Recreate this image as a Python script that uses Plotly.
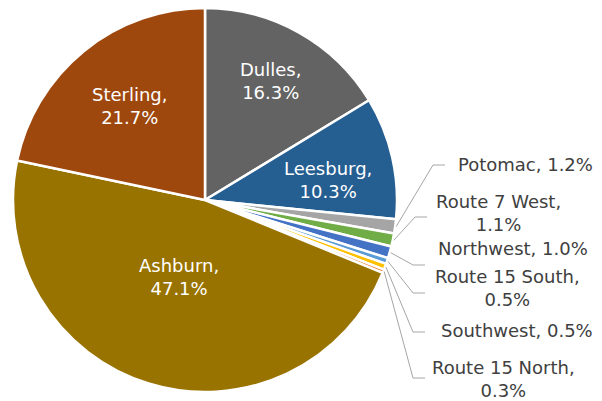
import math
import plotly.graph_objects as go

# ---- data ----
labels = ["Dulles", "Leesburg", "Potomac", "Route 7 West", "Northwest",
          "Route 15 South", "Southwest", "Route 15 North", "Ashburn", "Sterling"]
shares = [16.3, 10.3, 1.2, 1.1, 1.0, 0.5, 0.5, 0.3, 47.1, 21.7]
colors = ["#636363", "#255E91", "#A5A5A5", "#70AD47", "#4472C4",
          "#5B9BD5", "#FFC000", "#ED7D31", "#997300", "#9E480E"]

# ---- layout (screen pixel coordinates of the 602x401 picture) ----
OFF = 8                      # page body margin
W, H = 602 - OFF, 401 - OFF  # figure size
CX, CY, R = 205, 200, 192

# inside label centres
inside_pos = {"Dulles": (270, 81), "Leesburg": (328, 180),
              "Ashburn": (179, 277), "Sterling": (130, 106)}
# outside labels: (label centre x, centre y, elbow x, elbow y, end x)
outside = {
    "Potomac": (525, 165, 433, 165, 445),
    "Route 7 West": (498, 213, 415, 217, 427),
    "Northwest": (513, 248, 413, 265, 425),
    "Route 15 South": (507, 288, 413, 293, 425),
    "Southwest": (517, 330, 413, 332, 425),
    "Route 15 North": (503, 379, 413, 378, 425),
}
two_line_outside = {"Route 7 West", "Route 15 South", "Route 15 North"}

FONT = "DejaVu Sans, Verdana, sans-serif"
FS = 18


def px(x):
    return (x - OFF) / W


def py(y):
    return 1 - (y - OFF) / H


fig = go.Figure(go.Pie(
    labels=labels, values=shares, sort=False, direction="clockwise", rotation=0,
    marker=dict(colors=colors, line=dict(color="white", width=2.5)),
    textinfo="none", hoverinfo="label+percent", showlegend=False,
    domain=dict(x=[px(CX - R), px(CX + R)], y=[py(CY + R), py(CY - R)]),
))

annotations = []
shapes = []
total = sum(shares)
cum = 0.0
for lab, v in zip(labels, shares):
    mid = (cum + v / 2) / total * 2 * math.pi
    cum += v
    txt_val = f"{v:.1f}%"
    if lab in inside_pos:
        x, y = inside_pos[lab]
        annotations.append(dict(
            x=px(x), y=py(y), xref="paper", yref="paper", showarrow=False,
            text=f"{lab},<br>{txt_val}", align="center",
            font=dict(family=FONT, size=FS, color="white"),
            xanchor="center", yanchor="middle"))
    else:
        lx, ly, ex, ey, endx = outside[lab]
        sx = CX + (R + 1) * math.sin(mid)
        sy = CY - (R + 1) * math.cos(mid)
        path = f"M {px(sx)},{py(sy)} L {px(ex)},{py(ey)} L {px(endx)},{py(ey)}"
        shapes.append(dict(type="path", xref="paper", yref="paper", path=path,
                           line=dict(color="#A6A6A6", width=1)))
        if lab in two_line_outside:
            text = f"{lab},<br>{txt_val}"
        else:
            text = f"{lab}, {txt_val}"
        annotations.append(dict(
            x=px(lx), y=py(ly), xref="paper", yref="paper", showarrow=False,
            text=text, align="center",
            font=dict(family=FONT, size=FS, color="#404040"),
            xanchor="center", yanchor="middle"))

fig.update_layout(
    width=W, height=H, margin=dict(l=0, r=0, t=0, b=0),
    paper_bgcolor="white", plot_bgcolor="white",
    annotations=annotations, shapes=shapes,
)

fig.write_html("out.html")
